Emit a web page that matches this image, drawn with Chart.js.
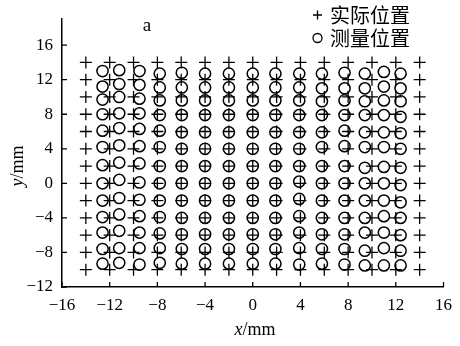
<!DOCTYPE html>
<html>
<head>
<meta charset="utf-8">
<script src="https://cdn.jsdelivr.net/npm/chart.js@4.4.0/dist/chart.umd.min.js"></script>
<style>
  html,body{margin:0;padding:0;background:#fff;}
  #wrap{width:460px;height:346px;position:relative;}
</style>
</head>
<body>
<div id="wrap"><canvas id="c" width="460" height="346"></canvas></div>
<script>
// actual grid positions (mm)
const gridX = [-14,-12,-10,-8,-6,-4,-2,0,2,4,6,8,10,12,14];
const gridY = [14,12,10,8,6,4,2,0,-2,-4,-6,-8,-10];
// measured positions: x per column, y per row/column
const measX = [-12.6,-11.2,-9.5,-7.8,-5.95,-4.0,-2.0,0,1.9,3.9,5.8,7.7,9.4,11.0,12.4];
const measY = [
  [13.0,13.1,13.0,12.7,12.8,12.7,12.7,12.7,12.7,12.7,12.7,12.8,12.7,12.9,12.7],
  [11.2,11.5,11.4,11.1,11.1,11.1,11.1,11.1,11.1,11.1,11.0,11.0,11.0,11.2,11.0],
  [9.7,10.0,9.8,9.6,9.6,9.6,9.6,9.6,9.6,9.6,9.5,9.6,9.5,9.6,9.5],
  [8.0,8.1,8.1,7.9,7.9,7.9,7.9,7.9,7.9,7.9,7.9,7.9,7.9,7.9,7.7],
  [6.1,6.4,6.3,6.1,5.9,5.9,5.9,5.9,5.9,5.9,5.9,6.1,5.9,5.9,5.8],
  [4.2,4.4,4.3,4.2,4.0,4.0,4.0,4.0,4.0,4.0,4.2,4.3,4.2,4.2,4.0],
  [2.1,2.4,2.3,2.0,2.0,2.0,2.0,2.0,2.0,2.0,2.0,2.0,1.8,1.9,1.8],
  [0.0,0.4,0.1,0.0,0.0,0.0,0.0,0.0,0.0,0.2,0.0,0.0,0.0,0.0,-0.2],
  [-2.0,-1.7,-1.9,-2.0,-2.0,-2.0,-2.0,-2.0,-2.0,-1.8,-2.0,-2.0,-2.0,-2.0,-2.2],
  [-3.9,-3.6,-3.8,-3.9,-4.0,-4.0,-4.0,-4.0,-4.0,-3.8,-4.0,-4.0,-4.0,-3.8,-4.0],
  [-5.7,-5.5,-5.7,-5.8,-5.9,-5.9,-5.9,-5.9,-5.9,-5.7,-5.9,-5.9,-5.7,-5.7,-6.0],
  [-7.6,-7.5,-7.5,-7.5,-7.6,-7.6,-7.6,-7.6,-7.6,-7.5,-7.6,-7.6,-7.8,-7.5,-7.8],
  [-9.3,-9.2,-9.4,-9.2,-9.3,-9.3,-9.3,-9.3,-9.3,-9.4,-9.3,-9.4,-9.5,-9.5,-9.5]
];
const xTicks = [-16,-12,-8,-4,0,4,8,12,16];
const yTicks = [-12,-8,-4,0,4,8,12,16];
const legendLabels = ['实际位置','测量位置'];
const panelLabel = 'a';

const actualPts = [];
gridY.forEach(y => gridX.forEach(x => actualPts.push({x:x, y:y})));
const measPts = [];
measY.forEach(row => row.forEach((y,i) => measPts.push({x:measX[i], y:y})));

const SERIF = '"Liberation Serif","Times New Roman",serif';
const CJK = '"Noto Sans CJK SC",sans-serif';
const fmt = v => v < 0 ? '\u2212' + Math.abs(v) : String(v);

// inward ticks, axis titles, legend, panel label
const extras = {
  id:'extras',
  afterDraw(chart){
    const c = chart.ctx, a = chart.chartArea;
    const sx = chart.scales.x, sy = chart.scales.y;
    c.save();
    c.strokeStyle = '#000'; c.fillStyle = '#000'; c.lineWidth = 1.3;
    c.beginPath();
    yTicks.forEach(v => { const p = sy.getPixelForValue(v); c.moveTo(a.left, p); c.lineTo(a.left+5, p); });
    xTicks.forEach(v => { const p = sx.getPixelForValue(v); c.moveTo(p, a.bottom); c.lineTo(p, a.bottom-5); });
    c.stroke();

    // axis titles
    function title(cx, cy){
      c.font = 'italic 18px ' + SERIF;
      const w1 = c.measureText(arguments[2]).width;
      c.font = '18px ' + SERIF;
      const w2 = c.measureText('/mm').width;
      let x0 = cx - (w1+w2)/2;
      c.textAlign = 'left'; c.textBaseline = 'middle';
      c.font = 'italic 18px ' + SERIF; c.fillText(arguments[2], x0, cy);
      c.font = '18px ' + SERIF; c.fillText('/mm', x0+w1, cy);
    }
    title(255, 330, 'x');
    c.save(); c.translate(18, 166); c.rotate(-Math.PI/2); title(0, 0, 'y'); c.restore();

    // panel label
    c.font = '19px ' + SERIF; c.textAlign = 'center'; c.textBaseline = 'middle';
    c.fillText(panelLabel, 147, 26);

    // legend
    c.lineWidth = 1.3;
    c.beginPath(); c.moveTo(313, 15); c.lineTo(322, 15); c.moveTo(317.5, 10.5); c.lineTo(317.5, 19.5); c.stroke();
    c.beginPath(); c.arc(317.5, 38, 4.5, 0, Math.PI*2); c.stroke();
    c.font = '20px ' + CJK; c.textAlign = 'left'; c.textBaseline = 'middle';
    c.fillText(legendLabels[0], 330, 15);
    c.fillText(legendLabels[1], 330, 38);
    c.restore();
  }
};

function fixTicks(list){ return s => { s.ticks = list.map(v => ({value:v})); }; }

new Chart(document.getElementById('c').getContext('2d'), {
  type:'scatter',
  data:{
    datasets:[
      { label:legendLabels[0], data:actualPts, pointStyle:'cross', pointRadius:6, pointHoverRadius:6,
        borderColor:'#000', backgroundColor:'#000', pointBorderWidth:1.3 },
      { label:legendLabels[1], data:measPts, pointStyle:'circle', pointRadius:5.6, pointHoverRadius:5.6,
        borderColor:'#000', backgroundColor:'rgba(0,0,0,0)', pointBorderWidth:1.5 }
    ]
  },
  options:{
    responsive:false,
    animation:false,
    events:[],
    layout:{ padding:{ left:0, right:12, top:15, bottom:0 } },
    plugins:{ legend:{display:false}, tooltip:{enabled:false}, title:{display:false} },
    scales:{
      x:{
        type:'linear', min:-16, max:16,
        afterBuildTicks: fixTicks(xTicks),
        afterFit: s => { s.height = 59; },
        ticks:{ callback:fmt, color:'#000', font:{family:SERIF, size:17}, padding:8, maxRotation:0, autoSkip:false },
        grid:{ display:true, drawOnChartArea:false, drawTicks:false },
        border:{ display:true, color:'#000', width:1.5 }
      },
      y:{
        type:'linear', min:-12, max:19,
        afterBuildTicks: fixTicks(yTicks),
        afterFit: s => { s.width = 62; },
        ticks:{ callback:fmt, color:'#000', font:{family:SERIF, size:17}, padding:9, autoSkip:false },
        grid:{ display:true, drawOnChartArea:false, drawTicks:false },
        border:{ display:true, color:'#000', width:1.5 }
      }
    }
  },
  plugins:[extras]
});
</script>
</body>
</html>
